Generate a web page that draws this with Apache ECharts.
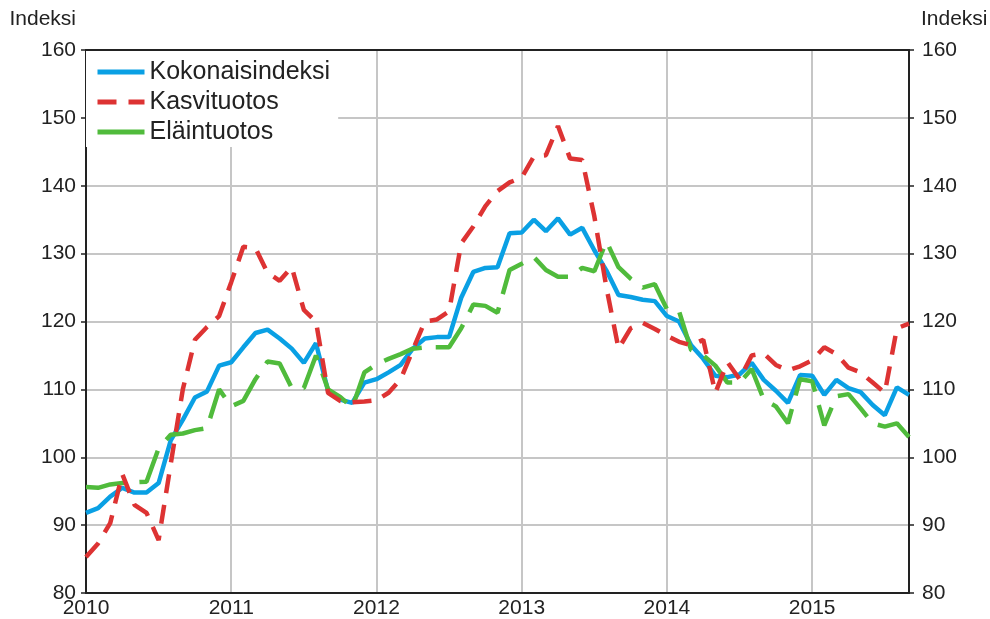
<!DOCTYPE html>
<html>
<head>
<meta charset="utf-8">
<script src="https://cdn.jsdelivr.net/npm/echarts@6/dist/echarts.min.js"></script>
<style>
html, body { margin: 0; padding: 0; background: #fff; }
#chart { width: 990px; height: 619px; }
</style>
</head>
<body>
<div id="chart"></div>
<script>
// vuodet ja kuukaudet 2010M01 - 2015M09
let years = ['2010', '2011', '2012', '2013', '2014', '2015'];
let months = [];
years.forEach(y => {
	for (let m = 1; m <= 12; m++) {
		if (y === '2015' && m > 9) break;
		months.push(y + 'M' + (m < 10 ? '0' + m : m));
	}
});

let kokonais = [91.8, 92.5, 94.2, 95.5, 94.8, 94.8, 96.2, 102.5, 105.5, 108.8,
	109.7, 113.5, 114, 116.2, 118.3, 118.8, 117.5, 116, 113.9, 116.8,
	109.8, 108.5, 108, 111, 111.5, 112.5, 113.6, 116, 117.5, 117.7,
	117.7, 123.5, 127.3, 127.9, 128, 133, 133.1, 135, 133.3, 135.2,
	132.8, 133.8, 130.5, 127.5, 123.9, 123.6, 123.2, 123, 120.8, 120,
	116.5, 114.5, 112, 111.8, 112.2, 113.9, 111.4, 109.8, 108, 112.1,
	112, 109.2, 111.4, 110.2, 109.6, 107.7, 106.2, 110.3, 109.2];

let kasvi = [85.3, 87.3, 90.3, 97.5, 93, 91.8, 87.8, 99, 110, 117.3,
	119.2, 120.8, 125.8, 131, 130.8, 127.2, 126, 128, 121.7, 120,
	109.5, 108.3, 108.1, 108.2, 108.4, 109.5, 111.5, 115.8, 120, 120.3,
	121.5, 131.5, 134, 137, 139.2, 140.5, 141.2, 144.3, 144.5, 148.8,
	144, 143.8, 135.5, 125, 116, 119, 119.8, 118.9, 117.9, 117,
	116.5, 117.3, 109.5, 114, 111.5, 115, 115.3, 113.6, 112.8, 113.4,
	114.3, 116.2, 115.2, 113.2, 112.5, 111, 109.5, 119, 119.7];

let elain = [95.6, 95.5, 96, 96.2, 96.3, 96.4, 101.3, 103.3, 103.5, 104,
	104.3, 110, 107.5, 108.3, 111.5, 114.1, 113.8, 110.2, 110.2, 115,
	110, 108.9, 107.3, 112.5, 113.7, 114.5, 115.2, 116, 116.2, 116.2,
	116.2, 119, 122.5, 122.3, 121.3, 127.6, 128.5, 129.5, 127.6, 126.6,
	126.6, 127.9, 127.4, 131.8, 128, 126.3, 125, 125.5, 121.8, 121.5,
	115.8, 115, 113.5, 111, 111, 113, 108.5, 107.5, 105, 111.5,
	111.2, 104.7, 109, 109.3, 107.2, 105, 104.5, 105, 103];

let FONT = "'Liberation Sans', Arial, sans-serif";
let TXT = '#222';
let GRIDC = '#c6c6c6';

let myChart = echarts.init(document.getElementById('chart'));

function yearTick(index) {
	return index % 12 === 0;
}

let yAxisBase = {
	type: 'value',
	min: 80,
	max: 160,
	interval: 10,
	name: 'Indeksi',
	nameLocation: 'end',
	nameGap: 20,
	axisLine: { show: true, lineStyle: { color: TXT, width: 2 } },
	axisTick: { show: true, length: 5, lineStyle: { color: TXT, width: 1.5 } },
	axisLabel: { color: TXT, fontSize: 21, fontFamily: FONT, margin: 10 }
};

option = {
	animation: false,
	backgroundColor: '#fff',
	grid: {
		left: 86,
		right: 81,
		top: 50,
		bottom: 26,
		outerBoundsMode: 'none'
	},
	legend: {
		orient: 'vertical',
		left: 86,
		top: 51,
		padding: [6, 8, 0, 9],
		itemGap: 0,
		itemWidth: 47,
		itemHeight: 14,
		backgroundColor: '#fff',
		itemStyle: { opacity: 0 },
		lineStyle: { width: 5 },
		textStyle: { color: TXT, fontSize: 25, fontFamily: FONT, lineHeight: 30 },
		data: [
			{ name: 'Kokonaisindeksi' },
			{ name: 'Kasvituotos' },
			{ name: 'Eläintuotos', lineStyle: { type: 'solid', width: 5 } }
		]
	},
	xAxis: [
		{
			type: 'category',
			boundaryGap: false,
			data: months,
			axisLine: { show: true, lineStyle: { color: TXT, width: 2 } },
			axisTick: { show: false },
			axisLabel: {
				interval: yearTick,
				color: TXT,
				fontSize: 21,
				fontFamily: FONT,
				margin: 5,
				formatter: v => v.slice(0, 4)
			},
			splitLine: { show: true, interval: yearTick, lineStyle: { color: GRIDC, width: 2 } }
		},
		{
			// ylareuna
			type: 'category',
			position: 'top',
			boundaryGap: false,
			data: months,
			z: 5,
			axisLine: { show: true, lineStyle: { color: TXT, width: 2 } },
			axisTick: { show: false },
			axisLabel: { show: false },
			splitLine: { show: false }
		}
	],
	yAxis: [
		Object.assign({}, yAxisBase, {
			position: 'left',
			nameTextStyle: { color: TXT, fontSize: 21, fontFamily: FONT, align: 'right', verticalAlign: 'bottom', padding: [0, 10, 0, 0] },
			splitLine: { show: true, lineStyle: { color: GRIDC, width: 2 } }
		}),
		Object.assign({}, yAxisBase, {
			position: 'right',
			axisLabel: { color: TXT, fontSize: 21, fontFamily: FONT, margin: 13 },
			nameTextStyle: { color: TXT, fontSize: 21, fontFamily: FONT, align: 'left', verticalAlign: 'bottom', padding: [0, 0, 0, 12] },
			splitLine: { show: false }
		})
	],
	series: [
		{
			name: 'Kokonaisindeksi',
			type: 'line',
			data: kokonais,
			symbol: 'none',
			z: 2,
			lineStyle: { color: '#0aa0e4', width: 4.5 },
			itemStyle: { color: '#0aa0e4' }
		},
		{
			name: 'Kasvituotos',
			type: 'line',
			data: kasvi,
			symbol: 'none',
			z: 4,
			lineStyle: { color: '#dd3333', width: 4.5, type: [19, 12] },
			itemStyle: { color: '#dd3333' }
		},
		{
			name: 'Eläintuotos',
			type: 'line',
			data: elain,
			symbol: 'none',
			z: 3,
			lineStyle: { color: '#50bb3c', width: 4.5, type: [40, 14] },
			itemStyle: { color: '#50bb3c' }
		}
	]
};

myChart.setOption(option);
</script>
</body>
</html>
